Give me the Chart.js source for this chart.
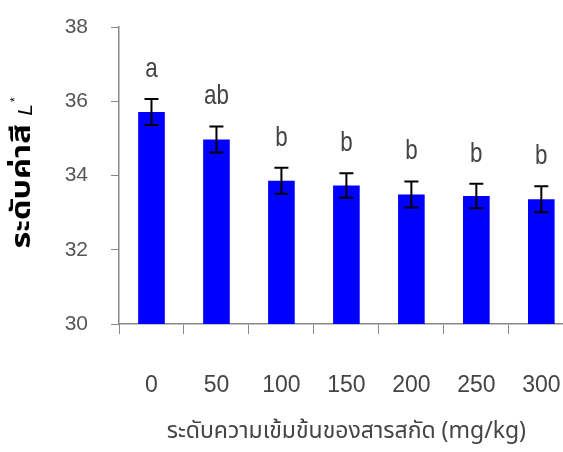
<!DOCTYPE html>
<html>
<head>
<meta charset="utf-8">
<script src="https://cdn.jsdelivr.net/npm/chart.js@4.4.1/dist/chart.umd.min.js"></script>
<style>
  html, body { margin: 0; padding: 0; background: #fff; overflow: hidden; }
  canvas { display: block; }
</style>
</head>
<body>
<canvas id="chart" width="600" height="452"></canvas>
<script>
// extract concentration (mg/kg)
const levels = ['0', '50', '100', '150', '200', '250', '300'];
// mean L* and its error
const lValues = [35.71, 34.97, 33.86, 33.73, 33.49, 33.45, 33.36];
const lErrors = [0.35, 0.35, 0.35, 0.33, 0.35, 0.33, 0.35];
// significance letters
const groups = ['a', 'ab', 'b', 'b', 'b', 'b', 'b'];
const yTicks = [30, 32, 34, 36, 38];

const sans = '"Liberation Sans", Arial, sans-serif';
const thai = '"Noto Sans Thai", "Noto Sans Thai UI", "Noto Sans", sans-serif';

// error bars + letters on top of each bar
const errorBars = {
    id: 'errorBars',
    afterDatasetsDraw(chart) {
        const ctx = chart.ctx;
        const y = chart.scales.y;
        const meta = chart.getDatasetMeta(0);
        ctx.save();
        meta.data.forEach((bar, i) => {
            const top = y.getPixelForValue(lValues[i] + lErrors[i]);
            const bottom = y.getPixelForValue(lValues[i] - lErrors[i]);
            ctx.strokeStyle = '#000';
            ctx.lineWidth = 2;
            ctx.beginPath();
            ctx.moveTo(bar.x, top); ctx.lineTo(bar.x, bottom);
            ctx.moveTo(bar.x - 7, top); ctx.lineTo(bar.x + 7, top);
            ctx.moveTo(bar.x - 7, bottom); ctx.lineTo(bar.x + 7, bottom);
            ctx.stroke();

            // letters are a bit condensed
            ctx.save();
            ctx.translate(bar.x, top - 22);
            ctx.scale(0.8, 1);
            ctx.fillStyle = '#444';
            ctx.font = '28px ' + sans;
            ctx.textAlign = 'center';
            ctx.textBaseline = 'alphabetic';
            ctx.fillText(groups[i], 0, 0);
            ctx.restore();
        });
        ctx.restore();
    }
};

// y title: Thai text, italic L, superscript star
const yTitle = {
    id: 'yTitle',
    afterDraw(chart) {
        const ctx = chart.ctx;
        const main = 'ระดับค่าสี ';
        const stretch = 1.25;
        ctx.save();
        ctx.translate(25, 173);
        ctx.rotate(-Math.PI / 2);
        ctx.fillStyle = '#000';
        ctx.textBaseline = 'middle';
        ctx.textAlign = 'left';
        const fMain = 'bold 26px ' + thai;
        const fL = 'italic 21px ' + sans;
        const fStar = '12px ' + sans;
        ctx.font = fMain; const w1 = ctx.measureText(main).width * stretch;
        ctx.font = fL; const w2 = ctx.measureText('L').width;
        ctx.font = fStar; const w3 = ctx.measureText('*').width;
        let x = -(w1 + w2 + w3 + 2) / 2;
        ctx.save();
        ctx.translate(x, 0);
        ctx.scale(stretch, 1);
        ctx.font = fMain; ctx.fillText(main, 0, 0);
        ctx.restore();
        x += w1;
        ctx.font = fL; ctx.fillText('L', x, 1); x += w2 + 2;
        ctx.font = fStar; ctx.fillText('*', x, -9);
        ctx.restore();
    }
};

new Chart(document.getElementById('chart'), {
    type: 'bar',
    data: {
        labels: levels,
        datasets: [{
            data: lValues,
            backgroundColor: '#0000ff',
            borderWidth: 0,
            categoryPercentage: 1,
            barPercentage: 0.41
        }]
    },
    options: {
        responsive: false,
        animation: false,
        layout: { padding: { left: 0, right: 21, top: 27, bottom: 0 } },
        plugins: { legend: { display: false }, tooltip: { enabled: false } },
        scales: {
            x: {
                afterFit: axis => { axis.height = 128; },
                grid: { offset: true, drawOnChartArea: false, tickLength: 10, color: '#888' },
                border: { color: '#888', width: 1.5 },
                ticks: { padding: 38, color: '#444', font: { family: sans, size: 23 } },
                title: {
                    display: true,
                    text: 'ระดับความเข้มข้นของสารสกัด (mg/kg)',
                    color: '#444',
                    font: { family: thai, size: 23 },
                    padding: { top: 18, bottom: 5 }
                }
            },
            y: {
                min: 30,
                max: 38,
                afterBuildTicks: axis => { axis.ticks = yTicks.map(v => ({ value: v })); },
                afterFit: axis => {
                    axis.width = 119;
                    // the label gap shouldn't push the plot down
                    axis.paddingTop = 0;
                    axis.paddingBottom = 0;
                },
                grid: { drawOnChartArea: false, tickLength: 8, color: '#888' },
                border: { color: '#888', width: 1.5 },
                ticks: { padding: 23, color: '#555', font: { family: sans, size: 21 } }
            }
        }
    },
    plugins: [errorBars, yTitle]
});
</script>
</body>
</html>
